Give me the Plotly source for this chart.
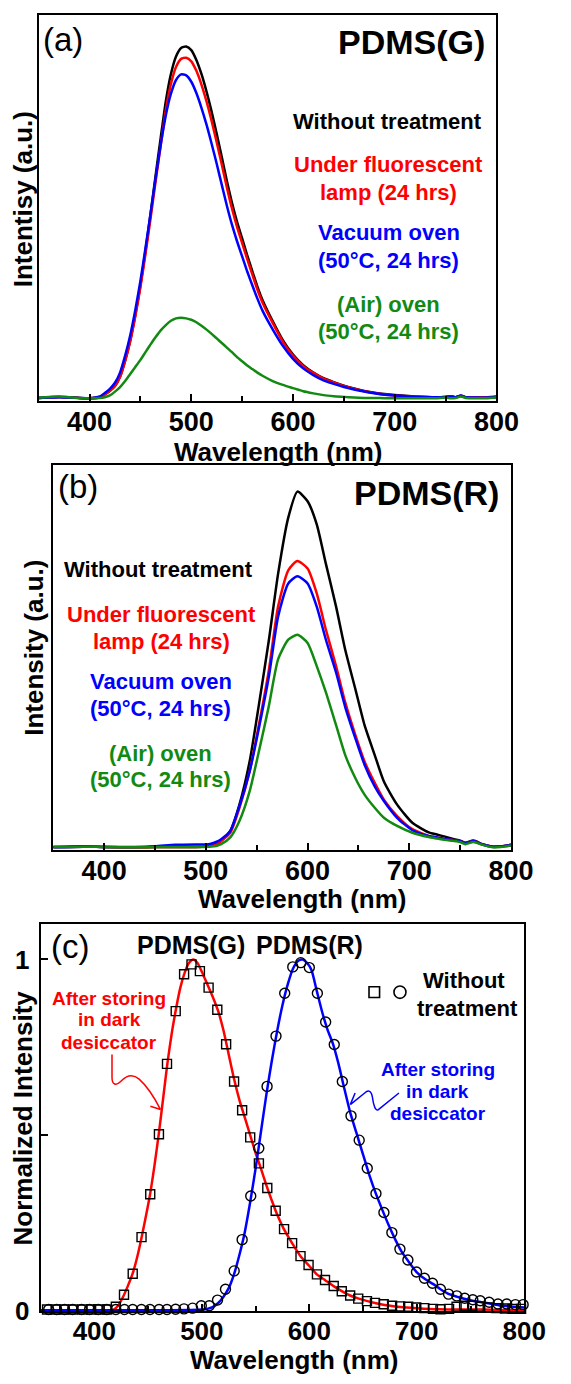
import plotly.graph_objects as go

W, H = 571, 1384
FONT = "Liberation Sans, Arial, sans-serif"

# ---------------- Panel (a) PDMS(G) ----------------
wl_a = [350, 360, 370, 380, 390, 400, 410, 415, 420, 425, 430, 435, 440, 445, 450, 455,
        460, 465, 470, 475, 480, 485, 490, 495, 500, 505, 510, 515, 520, 525, 530, 535,
        540, 545, 550, 555, 560, 565, 570, 580, 590, 600, 610, 620, 630, 640, 650, 660,
        670, 680, 690, 700, 720, 740, 750, 755, 760, 765, 770, 780, 790, 800]
a_without = [0.002, 0.004, 0.005, 0.004, 0.002, 0.001, 0.004, 0.012, 0.022, 0.036, 0.062, 0.108,
             0.165, 0.238, 0.322, 0.42, 0.525, 0.635, 0.742, 0.845, 0.922, 0.972, 0.996, 1.0,
             0.99, 0.962, 0.922, 0.872, 0.815, 0.752, 0.686, 0.618, 0.556, 0.502, 0.455, 0.407,
             0.362, 0.318, 0.28, 0.22, 0.166, 0.125, 0.095, 0.074, 0.058, 0.047, 0.037, 0.029,
             0.022, 0.017, 0.013, 0.01, 0.006, 0.004, 0.005, 0.007, 0.004, 0.008, 0.004, 0.003,
             0.003, 0.004]
a_lamp = [0.002, 0.004, 0.005, 0.004, 0.002, 0.001, 0.004, 0.012, 0.022, 0.036, 0.062, 0.107,
          0.163, 0.234, 0.316, 0.411, 0.512, 0.618, 0.72, 0.82, 0.894, 0.942, 0.965, 0.968,
          0.958, 0.931, 0.892, 0.844, 0.789, 0.728, 0.665, 0.6, 0.54, 0.488, 0.442, 0.396,
          0.353, 0.31, 0.273, 0.215, 0.162, 0.122, 0.093, 0.073, 0.057, 0.046, 0.036, 0.028,
          0.021, 0.016, 0.012, 0.009, 0.006, 0.004, 0.005, 0.007, 0.004, 0.008, 0.004, 0.003,
          0.004, 0.007]
a_vacuum = [0.002, 0.003, 0.004, 0.003, 0.002, 0.001, 0.006, 0.016, 0.028, 0.045, 0.074, 0.122,
            0.18, 0.252, 0.334, 0.428, 0.526, 0.627, 0.722, 0.805, 0.866, 0.905, 0.921, 0.918,
            0.9, 0.868, 0.826, 0.778, 0.724, 0.667, 0.607, 0.548, 0.494, 0.447, 0.404, 0.361,
            0.322, 0.284, 0.25, 0.197, 0.15, 0.113, 0.086, 0.067, 0.052, 0.042, 0.033, 0.026,
            0.02, 0.015, 0.011, 0.009, 0.005, 0.004, 0.005, 0.006, 0.004, 0.009, 0.004, 0.003,
            0.003, 0.005]
a_air = [0.003, 0.005, 0.006, 0.004, 0.002, 0.001, 0.002, 0.004, 0.009, 0.02, 0.033, 0.05,
         0.07, 0.09, 0.11, 0.132, 0.154, 0.175, 0.194, 0.209, 0.221, 0.228, 0.23, 0.228,
         0.224, 0.217, 0.207, 0.196, 0.184, 0.171, 0.158, 0.145, 0.132, 0.118, 0.106, 0.094,
         0.084, 0.074, 0.065, 0.05, 0.039, 0.03, 0.021, 0.015, 0.01, 0.007, 0.005, 0.003,
         0.002, 0.002, 0.001, 0.001, 0.001, 0.001, 0.003, 0.001, 0.002, 0.006, 0.002, 0.001,
         0.001, 0.003]

# ---------------- Panel (b) PDMS(R) ----------------
wl_b = [350, 380, 400, 430, 450, 470, 490, 500, 505, 510, 515, 524, 533, 543, 552, 562, 571,
        581, 590, 600, 609, 618, 628, 637, 647, 656, 666, 675, 688, 703, 719, 727, 735, 744,
        750, 755, 763, 772, 782, 790, 800]
b_without = [0.002, 0.004, 0.002, 0.001, 0.002, 0.002, 0.002, 0.003, 0.006, 0.01, 0.019, 0.047,
             0.121, 0.242, 0.399, 0.584, 0.769, 0.927, 1.0, 0.973, 0.908, 0.797, 0.677, 0.556,
             0.445, 0.344, 0.26, 0.186, 0.121, 0.07, 0.043, 0.037, 0.031, 0.024, 0.02, 0.014,
             0.02, 0.01, 0.003, 0.004, 0.008]
b_lamp = [0.002, 0.003, 0.002, 0.001, 0.002, 0.002, 0.002, 0.003, 0.005, 0.009, 0.019, 0.042,
          0.112, 0.214, 0.343, 0.5, 0.677, 0.779, 0.805, 0.784, 0.714, 0.612, 0.51, 0.408,
          0.316, 0.242, 0.182, 0.135, 0.089, 0.052, 0.033, 0.029, 0.024, 0.021, 0.018, 0.013,
          0.019, 0.009, 0.003, 0.003, 0.007]
b_vacuum = [0.001, 0.003, 0.002, 0.002, 0.004, 0.008, 0.009, 0.009, 0.011, 0.016, 0.024, 0.047,
            0.117, 0.214, 0.334, 0.482, 0.649, 0.742, 0.762, 0.742, 0.677, 0.584, 0.492, 0.395,
            0.307, 0.233, 0.172, 0.131, 0.084, 0.049, 0.033, 0.029, 0.024, 0.021, 0.018, 0.013,
            0.019, 0.009, 0.003, 0.003, 0.008]
b_air = [0.002, 0.003, 0.002, 0.001, 0.002, 0.002, 0.002, 0.002, 0.003, 0.005, 0.01, 0.029,
         0.075, 0.158, 0.269, 0.399, 0.529, 0.584, 0.598, 0.575, 0.51, 0.436, 0.344, 0.26,
         0.195, 0.149, 0.112, 0.084, 0.061, 0.042, 0.03, 0.026, 0.022, 0.019, 0.016, 0.01,
         0.016, 0.008, 0.001, 0.002, 0.006]

# ---------------- Panel (c) normalized ----------------
wl_g_line = [350, 380, 410, 418, 422, 427, 431, 436, 440, 444, 448, 452, 456, 460, 464, 468,
             472, 476, 480, 484, 488, 492, 496, 500, 505, 510, 515, 520, 525, 530, 535, 540,
             545, 550, 555, 560, 565, 570, 576, 584, 592, 600, 607, 615, 623, 631, 638, 646,
             654, 662, 670, 680, 690, 700, 720, 740, 760, 780, 800]
g_stored = [0.002, 0.002, 0.002, 0.004, 0.015, 0.042, 0.07, 0.11, 0.155, 0.21, 0.27, 0.335,
            0.415, 0.505, 0.605, 0.705, 0.79, 0.86, 0.92, 0.962, 0.99, 1.0, 0.99, 0.965, 0.93,
            0.895, 0.855, 0.8, 0.73, 0.66, 0.6, 0.55, 0.5, 0.45, 0.405, 0.358, 0.315, 0.275,
            0.235, 0.193, 0.155, 0.128, 0.104, 0.087, 0.07, 0.055, 0.044, 0.035, 0.028, 0.022,
            0.017, 0.013, 0.01, 0.008, 0.005, 0.004, 0.004, 0.003, 0.003]
wl_r_line = [350, 400, 450, 490, 500, 505, 510, 515, 520, 525, 530, 535, 540, 545, 550, 555,
             560, 565, 570, 575, 580, 585, 590, 594, 598, 602, 607, 612, 617, 622, 627, 632,
             638, 644, 650, 656, 662, 668, 674, 680, 686, 692, 700, 708, 715, 722, 730, 737,
             745, 752, 760, 770, 780, 790, 800]
r_stored = [0.002, 0.002, 0.002, 0.003, 0.004, 0.006, 0.011, 0.022, 0.04, 0.065, 0.105, 0.16,
            0.225, 0.31, 0.405, 0.51, 0.615, 0.71, 0.795, 0.87, 0.93, 0.975, 0.997, 1.0, 0.99,
            0.97, 0.91, 0.85, 0.8, 0.76, 0.705, 0.64, 0.565, 0.505, 0.445, 0.385, 0.333, 0.287,
            0.243, 0.203, 0.168, 0.142, 0.11, 0.09, 0.077, 0.062, 0.048, 0.041, 0.034, 0.029,
            0.025, 0.02, 0.015, 0.012, 0.01]
wl_g_sq = [356, 364, 372, 380, 389, 397, 405, 412, 420, 427.6, 435.7, 443.9, 452, 460.1, 467.6,
           475.7, 483.5, 490.4, 498.2, 506.3, 514.4, 522.6, 530, 537.5, 545, 553.1, 560.9,
           568.7, 576.5, 584, 591.8, 599.3, 607.1, 614.6, 622.7, 630.2, 638, 645.5, 653.6,
           661.1, 669.2, 677, 684.5, 692, 699.5, 707, 715, 722, 730, 737, 744, 751.5, 759,
           766, 774, 782, 789, 797]
g_without = [0.004, 0.004, 0.004, 0.004, 0.004, 0.004, 0.004, 0.004, 0.012, 0.046, 0.106, 0.21,
             0.332, 0.503, 0.703, 0.853, 0.958, 0.986, 0.967, 0.92, 0.857, 0.759, 0.653, 0.571,
             0.494, 0.42, 0.35, 0.285, 0.233, 0.193, 0.156, 0.131, 0.104, 0.088, 0.071, 0.056,
             0.044, 0.035, 0.028, 0.023, 0.019, 0.015, 0.013, 0.012, 0.01, 0.008, 0.006, 0.005,
             0.006, 0.012, 0.015, 0.015, 0.012, 0.01, 0.008, 0.007, 0.006, 0.006]
wl_r_ci = [357.5, 364.9, 372.3, 379.8, 388.1, 395.5, 403.6, 411.6, 420, 428, 435.7, 443.8,
           451.8, 460.2, 467.6, 475.6, 483.4, 491.4, 499.5, 506.9, 514.6, 522, 530.1, 537.5,
           545.5, 553, 560.7, 569, 577.1, 584.6, 592, 600, 607.5, 615.2, 623.2, 630.7, 638.8,
           646.4, 653.9, 662, 669.4, 676.8, 684.3, 691.7, 699.7, 707.1, 714.6, 722, 729.5,
           737.2, 744.6, 752.1, 759, 767.3, 775.5, 783.6, 791.7, 798.9]
r_without = [0.004, 0.004, 0.004, 0.004, 0.004, 0.004, 0.004, 0.004, 0.004, 0.004, 0.004, 0.004,
             0.004, 0.004, 0.004, 0.005, 0.006, 0.008, 0.015, 0.015, 0.031, 0.062, 0.114, 0.203,
             0.327, 0.463, 0.639, 0.782, 0.904, 0.979, 0.991, 0.977, 0.904, 0.822, 0.758, 0.653,
             0.555, 0.486, 0.406, 0.334, 0.28, 0.223, 0.176, 0.145, 0.111, 0.093, 0.079, 0.062,
             0.048, 0.043, 0.036, 0.032, 0.029, 0.025, 0.02, 0.02, 0.018, 0.018]

BLACK, RED, BLUE, GREEN = "#000000", "#ff0000", "#0000ff", "#128a12"


def px(x):
    return x / W


def py(y):
    return 1 - y / H


fig = go.Figure()


def add_line(x, y, color, xa, ya):
    fig.add_trace(go.Scatter(x=x, y=y, mode="lines", xaxis=xa, yaxis=ya, showlegend=False,
                             line=dict(color=color, width=2.5, shape="spline", smoothing=0.6)))


for ys, c in [(a_without, BLACK), (a_lamp, RED), (a_vacuum, BLUE), (a_air, GREEN)]:
    add_line(wl_a, ys, c, "x", "y")
for ys, c in [(b_without, BLACK), (b_lamp, RED), (b_vacuum, BLUE), (b_air, GREEN)]:
    add_line(wl_b, ys, c, "x2", "y2")
add_line(wl_g_line, g_stored, RED, "x3", "y3")
add_line(wl_r_line, r_stored, BLUE, "x3", "y3")
fig.add_trace(go.Scatter(x=wl_g_sq, y=g_without, mode="markers", xaxis="x3", yaxis="y3",
                         showlegend=False, cliponaxis=False,
                         marker=dict(symbol="square-open", size=9, color=BLACK,
                                     line=dict(width=1.4, color=BLACK))))
fig.add_trace(go.Scatter(x=wl_r_ci, y=r_without, mode="markers", xaxis="x3", yaxis="y3",
                         showlegend=False, cliponaxis=False,
                         marker=dict(symbol="circle-open", size=10, color=BLACK,
                                     line=dict(width=1.4, color=BLACK))))

tickfont = dict(family=FONT, size=26, color=BLACK, weight="bold")


def xaxis(dom, anchor, fsize=27, standoff=-4):
    return dict(domain=[px(dom[0]), px(dom[1])], anchor=anchor, range=[350, 800],
                showline=True, linecolor=BLACK, linewidth=2, mirror=True,
                ticks="inside", tickvals=[400, 500, 600, 700, 800], ticklen=7, tickwidth=2,
                tickcolor=BLACK,
                minor=dict(tickvals=[450, 550, 650, 750], ticks="inside", ticklen=5,
                           tickwidth=2, tickcolor=BLACK),
                showgrid=False, zeroline=False,
                tickfont=dict(family=FONT, size=fsize, color=BLACK, weight="bold"),
                ticklabelstandoff=standoff)


def yaxis(dom, anchor, rng):
    return dict(domain=[py(dom[1]), py(dom[0])], anchor=anchor, range=rng,
                showline=True, linecolor=BLACK, linewidth=2, mirror=True,
                showticklabels=False, ticks="", showgrid=False, zeroline=False)


ya3 = yaxis((934.3, 1325.7), "x3", [-0.001, 1.1005])
ya3.update(showticklabels=True, ticks="inside", tickvals=[0, 0.5, 1], ticktext=["0", "", "1"],
           ticklen=7, tickwidth=2, tickcolor=BLACK, tickfont=tickfont, ticklabelstandoff=4)

fig.update_layout(
    width=W, height=H, margin=dict(l=0, r=0, t=0, b=0),
    paper_bgcolor="white", plot_bgcolor="white", showlegend=False,
    xaxis=xaxis((40.3, 517.3), "y"),
    yaxis=yaxis((15, 405), "x", [-0.0056, 1.09]),
    xaxis2=xaxis((55.5, 532.5), "y2"),
    yaxis2=yaxis((470, 859), "x2", [-0.0056, 1.075]),
    xaxis3=xaxis((42.3, 546.3), "y3", 26, -5),
    yaxis3=ya3,
)

ann = []


def text(t, x, y, size, color=BLACK, bold=True, angle=0, xanchor="center"):
    ann.append(dict(text=t, x=px(x), y=py(y), xref="paper", yref="paper", showarrow=False,
                    xanchor=xanchor, yanchor="middle", textangle=angle,
                    font=dict(family=FONT, size=size, color=color,
                              weight="bold" if bold else "normal")))


# panel a
text("(a)", 65.5, 40, 33, bold=False)
text("PDMS(G)", 507, 42, 34, xanchor="right")
text("Without treatment", 404, 122.7, 22)
text("Under fluorescent", 405, 166.7, 22, RED)
text("lamp (24 hrs)", 405, 194.3, 22, RED)
text("Vacuum oven", 405, 235, 22, BLUE)
text("(50°C, 24 hrs)", 405, 263.3, 22, BLUE)
text("(Air) oven", 405, 308.3, 22, GREEN)
text("(50°C, 24 hrs)", 405, 335, 22, GREEN)
text("Intentisy (a.u.)", 23.7, 201.7, 26, angle=-90)
text("Wavelength (nm)", 290, 457, 26)
# panel b
text("(b)", 81, 491.7, 33, bold=False)
text("PDMS(R)", 522, 498.3, 34, xanchor="right")
text("Without treatment", 165, 575.7, 22)
text("Under fluorescent", 168, 621, 22, RED)
text("lamp (24 hrs)", 168, 648.3, 22, RED)
text("Vacuum oven", 167.5, 689.3, 22, BLUE)
text("(50°C, 24 hrs)", 167.5, 716, 22, BLUE)
text("(Air) oven", 167.5, 761.7, 22, GREEN)
text("(50°C, 24 hrs)", 167.5, 788.3, 22, GREEN)
text("Intensity (a.u.)", 35.3, 655, 26, angle=-90)
text("Wavelength (nm)", 315, 909, 26)
# panel c
text("(c)", 72.8, 956.7, 33, bold=False)
text("PDMS(G)", 199.4, 955, 25)
text("PDMS(R)", 322.3, 955, 25)
text("Without", 483, 991.7, 22)
text("treatment", 486.7, 1019.3, 22)
text("After storing", 113.7, 1009.3, 19, RED)
text("in dark", 114.5, 1030.7, 19, RED)
text("desiccator", 114, 1054, 19, RED)
text("After storing", 456.5, 1081.7, 19, BLUE)
text("in dark", 456.3, 1103.3, 19, BLUE)
text("desiccator", 456.2, 1126, 19, BLUE)
text("Normalized Intensity", 23.7, 1130, 26, angle=-90)
text("Wavelength (nm)", 305.9, 1375, 26)

fig.update_layout(annotations=ann)


def path(cmds):
    out = []
    for c, pts in cmds:
        out.append(c + " ".join(f"{px(a):.5f},{py(b):.5f}" for a, b in pts))
    return " ".join(out)


shapes = []
# legend symbols in (c)
shapes.append(dict(type="rect", xref="paper", yref="paper",
                   x0=px(384.5), x1=px(395.5), y0=py(1008.5), y1=py(997.5),
                   line=dict(color=BLACK, width=1.6)))
shapes.append(dict(type="circle", xref="paper", yref="paper",
                   x0=px(410.5), x1=px(423), y0=py(1009.3), y1=py(996.8),
                   line=dict(color=BLACK, width=1.6)))
# red curly arrow
shapes.append(dict(type="path", xref="paper", yref="paper", line=dict(color=RED, width=1.5),
                   path=path([("M", [(116.7, 1066)]), ("L", [(116.7, 1089)]),
                              ("C", [(116.7, 1097), (121, 1098), (126, 1093)]),
                              ("C", [(131, 1088), (138, 1085), (145, 1091)]),
                              ("C", [(152, 1097), (160, 1108), (167.3, 1121.7)]),
                              ("M", [(156.7, 1118.3)]), ("L", [(167.3, 1121.7), (168.3, 1110)])])))
# blue curly arrow
shapes.append(dict(type="path", xref="paper", yref="paper", line=dict(color=BLUE, width=1.5),
                   path=path([("M", [(415.7, 1105)]), ("L", [(394.3, 1121.7)]),
                              ("C", [(391, 1124), (389, 1116), (388, 1109)]),
                              ("C", [(387, 1103), (384, 1101), (380, 1105)]),
                              ("L", [(365, 1116.7)]),
                              ("M", [(370, 1105)]), ("L", [(365, 1116.7), (376, 1116)])])))
fig.update_layout(shapes=shapes)

fig.write_html("out.html")
